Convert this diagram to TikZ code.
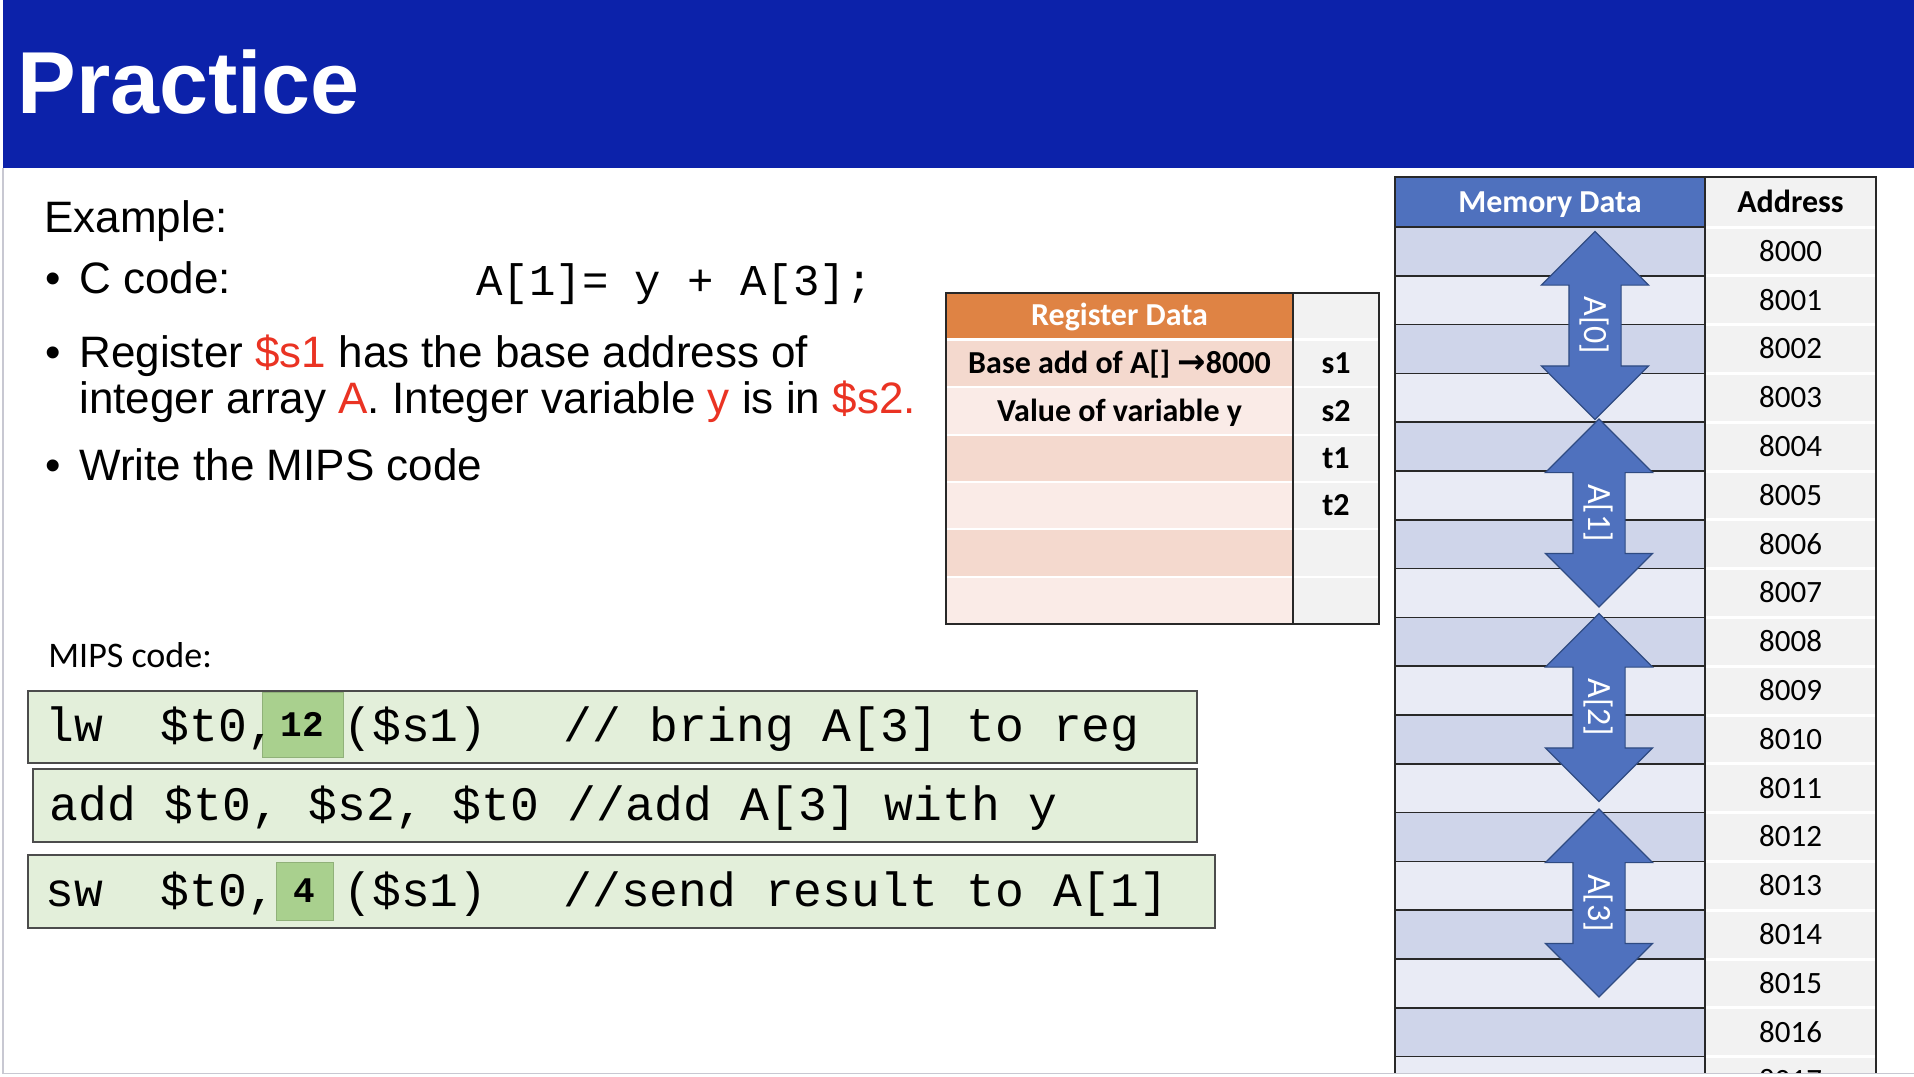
\documentclass[tikz,border=0pt]{standalone}
\usepackage{fontspec}
\setmainfont{Liberation Sans}
\setmonofont{Liberation Mono}
\newfontfamily\calfont{Carlito}
\newfontfamily\symfont{DejaVu Sans}
\usetikzlibrary{shapes.arrows}
\definecolor{titleblue}{RGB}{12,34,170}
\definecolor{hired}{RGB}{234,51,35}
\definecolor{regorange}{RGB}{223,131,68}
\definecolor{regdark}{RGB}{244,217,206}
\definecolor{reglight}{RGB}{250,235,231}
\definecolor{cellgray}{RGB}{242,242,242}
\definecolor{memblue}{RGB}{79,113,190}
\definecolor{memdark}{RGB}{207,213,234}
\definecolor{memlight}{RGB}{233,235,245}
\definecolor{arrowedge}{RGB}{47,75,130}
\definecolor{codegreen}{RGB}{227,239,218}
\definecolor{offgreen}{RGB}{169,208,142}
\definecolor{framegray}{RGB}{200,200,210}
\definecolor{tableedge}{RGB}{40,40,40}
\begin{document}
\begin{tikzpicture}
[x=0.5pt,y=-0.5pt,
body/.style={anchor=base west,inner sep=0pt,font=\fontsize{22}{26}\selectfont},
code/.style={anchor=base west,inner sep=0pt,font=\ttfamily\fontsize{24}{28}\selectfont},
codebox/.style={draw=black!70,line width=1pt,fill=codegreen},
offset/.style={fill=offgreen,draw=offgreen!85!black,line width=0.5pt,inner sep=0pt,font=\ttfamily\bfseries\fontsize{18}{20}\selectfont},
cell/.style={inner sep=0pt,text height=10.3pt,text depth=0pt,font=\calfont\bfseries\fontsize{16}{18}\selectfont},
addrcell/.style={inner sep=0pt,text height=9.8pt,text depth=0pt,font=\calfont\fontsize{15.5}{17}\selectfont},
darrow/.style={double arrow,rotate=-90,fill=memblue,draw=arrowedge,line width=0.6pt,text=white,
  minimum height=94pt,minimum width=53pt,double arrow head extend=13.75pt,inner sep=1pt,
  text height=17.25pt,text depth=6.25pt,font=\calfont\fontsize{17}{19}\selectfont}]
\useasboundingbox (0,0) rectangle (1914,1076);
\fill[white] (0,0) rectangle (1914,1076);

% title bar
\fill[titleblue] (3,0) rectangle (1914,168);
\node[anchor=base west,inner sep=0pt,text=white,font=\bfseries\fontsize{44}{50}\selectfont] (title) at (17,113) {Practice};

% problem text
\node[body] (example) at (44,232) {Example:};
\node[body] (bul1) at (45,293) {•};
\node[body] (ccode) at (79,293) {C code:};
\node[body,font=\ttfamily\fontsize{22}{26}\selectfont] (cexpr) at (476,295) {A[1]= y + A[3];};
\node[body] (bul2) at (45,367) {•};
\node[body] (reg1) at (79,367) {Register \textcolor{hired}{\$s1} has the base address of};
\node[body] (reg2) at (79,413) {integer array \textcolor{hired}{A}. Integer variable \textcolor{hired}{y} is in \textcolor{hired}{\$s2.}};
\node[body] (bul3) at (45,480) {•};
\node[body] (write) at (79,480) {Write the MIPS code};

% MIPS code
\node[anchor=base west,inner sep=0pt,font=\calfont\fontsize{18}{20}\selectfont] (mipslabel) at (48,667) {MIPS code:};
\draw[codebox] (28,691) rectangle (1197,763);
\draw[codebox] (33,769) rectangle (1197,842);
\draw[codebox] (28,855) rectangle (1215,928);
\node[offset,minimum width=40.5pt,minimum height=32.5pt] (lwoff) at (302.5,724.5) {12};
\node[offset,minimum width=28.5pt,minimum height=29pt] (swoff) at (304.5,891) {4};
\node[code] (lwop) at (45,741) {lw\ \ \$t0,};
\node[code] (lwsrc) at (343,741) {(\$s1)};
\node[code] (lwcmt) at (563,741) {// bring A[3] to reg};
\node[code] (addline) at (49,820) {add \$t0, \$s2, \$t0 //add A[3] with y};
\node[code] (swop) at (45,906) {sw\ \ \$t0,};
\node[code] (swsrc) at (343,906) {(\$s1)};
\node[code] (swcmt) at (563,906) {//send result to A[1]};

% register table
\fill[regorange] (946,293) rectangle (1293,340);
\fill[cellgray] (1293,293) rectangle (1379,340);
\node[cell,text=white] (reghead) at (1119.5,315.5) {Register Data};
\foreach \i/\data/\reg in {0/{Base add of A[] {\symfont\bfseries\fontsize{17}{18}\selectfont →}8000}/s1,1/Value of variable y/s2,2//t1,3//t2,4//,5//}{
  \pgfmathsetmacro\rtop{340+47.3*\i}
  \ifodd\i\def\rowfill{reglight}\else\def\rowfill{regdark}\fi
  \fill[\rowfill] (946,\rtop) rectangle (1293,\rtop+47.3);
  \fill[cellgray] (1293,\rtop) rectangle (1379,\rtop+47.3);
  \draw[white,line width=1pt] (946,\rtop) -- (1379,\rtop);
  \node[cell] (regdata\i) at (1119.5,\rtop+23.65) {\data};
  \node[cell] (regname\i) at (1336,\rtop+23.65) {\reg};
}
\draw[white,line width=1.5pt] (946,339) -- (1379,339);
\draw[tableedge,line width=1pt] (946,293) rectangle (1379,624);
\draw[tableedge,line width=1pt] (1293,293) -- (1293,624);

% memory table
\begin{scope}
\clip (0,0) rectangle (1914,1072);
\fill[memblue] (1395,177) rectangle (1705,227);
\fill[cellgray] (1705,177) rectangle (1876,227);
\node[cell,text=white] (memhead) at (1550,202) {Memory Data};
\node[cell] (addrhead) at (1790.5,202) {Address};
\foreach \i in {0,...,17}{
  \pgfmathsetmacro\rtop{227+48.8*\i}
  \pgfmathtruncatemacro\addr{8000+\i}
  \ifodd\i\def\rowfill{memlight}\else\def\rowfill{memdark}\fi
  \fill[\rowfill] (1395,\rtop) rectangle (1705,\rtop+48.8);
  \fill[cellgray] (1705,\rtop) rectangle (1876,\rtop+48.8);
  \draw[white,line width=1.5pt] (1705,\rtop) -- (1876,\rtop);
  \draw[tableedge,line width=0.8pt] (1395,\rtop) -- (1705,\rtop);
  \node[addrcell] (addr\i) at (1790.5,\rtop+24.4) {\addr};
}
\draw[tableedge,line width=1pt] (1395,1100) -- (1395,177) -- (1876,177) -- (1876,1100);
\draw[tableedge,line width=0.8pt] (1705,177) -- (1705,1100);
\foreach \k/\cx/\cy in {0/1595/325.5,1/1599/513,2/1599/707.5,3/1599/903}
  \node[darrow] (arr\k) at (\cx,\cy) {A[\k]};
\end{scope}

% slide frame
\draw[framegray,line width=0.8pt] (3,168) -- (3,1073.5) -- (1914,1073.5);
\end{tikzpicture}
\end{document}
